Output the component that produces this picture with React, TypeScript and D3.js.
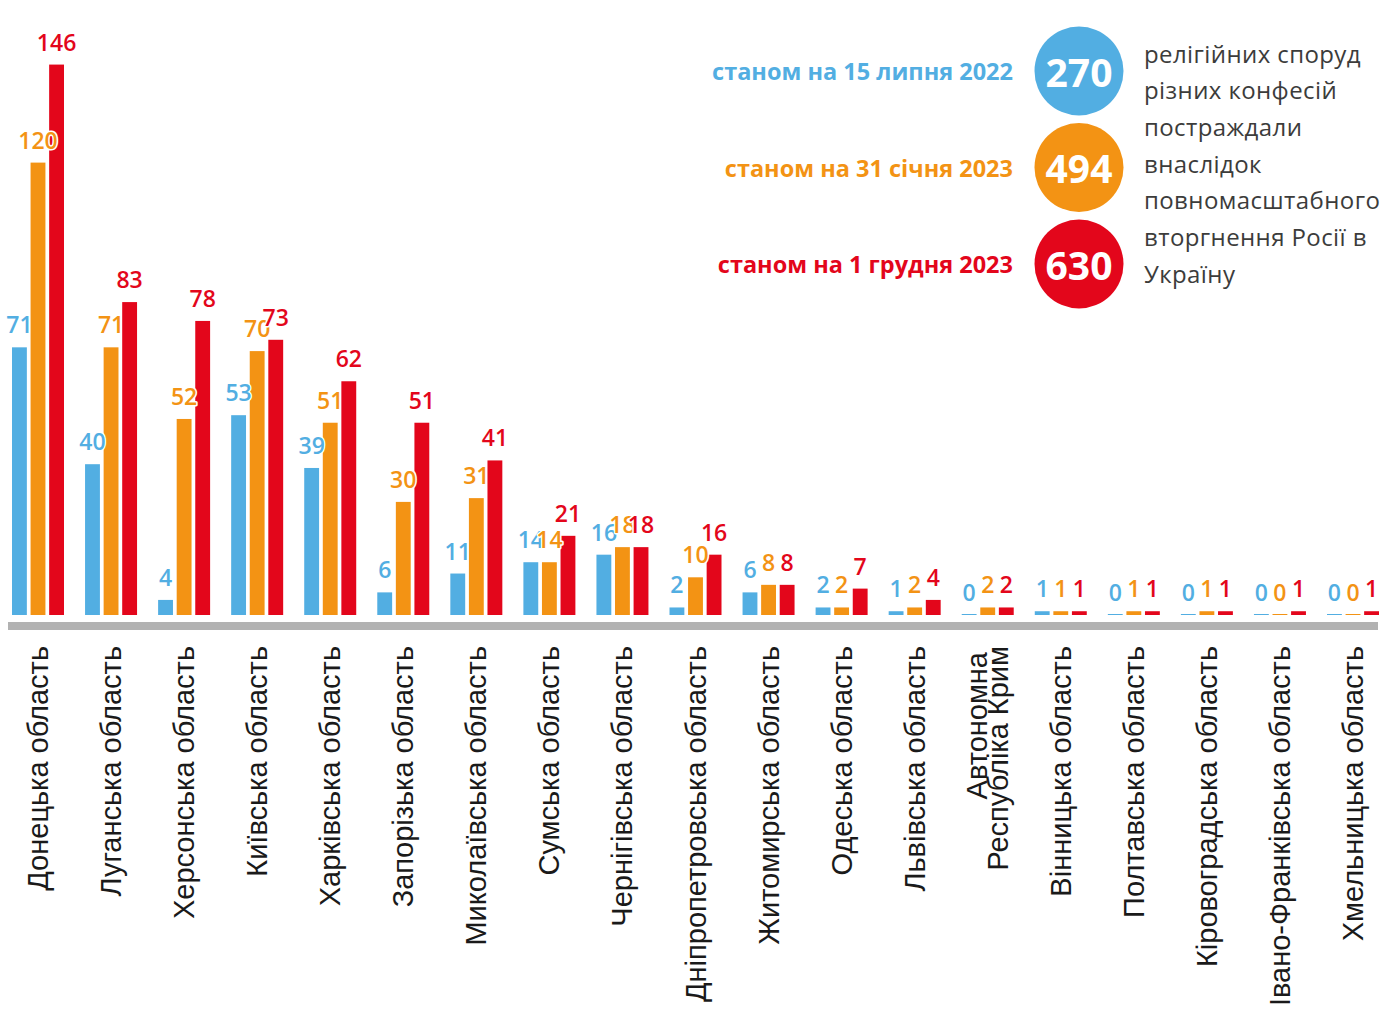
import React from "react";
import * as d3 from "d3";

const categories = [
  "Донецька область",
  "Луганська область",
  "Херсонська область",
  "Київська область",
  "Харківська  область",
  "Запорізька область",
  "Миколаївська область",
  "Сумська область",
  "Чернігівська область",
  "Дніпропетровська область",
  "Житомирська область",
  "Одеська область",
  "Львівська область",
  "Автономна\nРеспубліка Крим",
  "Вінницька область",
  "Полтавська область",
  "Кіровоградська область",
  "Івано-Франківська область",
  "Хмельницька область",
];

const jul2022 = [71, 40, 4, 53, 39, 6, 11, 14, 16, 2, 6, 2, 1, 0, 1, 0, 0, 0, 0];
const jan2023 = [120, 71, 52, 70, 51, 30, 31, 14, 18, 10, 8, 2, 2, 2, 1, 1, 1, 0, 0];
const dec2023 = [146, 83, 78, 73, 62, 51, 41, 21, 18, 16, 8, 7, 4, 2, 1, 1, 1, 1, 1];

const seriesKeys = ["jul2022", "jan2023", "dec2023"];
const seriesValues = [jul2022, jan2023, dec2023];
const seriesColors = ["#52AEE2", "#F39314", "#E3061B"];
const legendLabels = ["станом на 15 липня 2022", "станом на 31 січня 2023", "станом на 1 грудня 2023"];
const legendTotals = ["270", "494", "630"];
const noteLines = [
  "релігійних споруд",
  "різних конфесій",
  "постраждали",
  "внаслідок",
  "повномасштабного",
  "вторгнення Росії в",
  "Україну",
];

const W = 1384;
const H = 1013;
const baseY = 615;
const numFont = "'Open Sans', 'Noto Sans', sans-serif";
const labelFont = "'Liberation Sans', Arial, sans-serif";

export default function App() {
  const x = d3.scalePoint<string>().domain(categories).range([38, 1353]);
  const xs = d3.scaleBand<string>().domain(seriesKeys).range([-26, 26]).paddingInner(0.2);
  const y = d3.scaleLinear().domain([0, 146]).range([baseY, baseY - 146 * 3.77]);

  return (
    <svg
      width={W}
      height={H}
      viewBox={`0 0 ${W} ${H}`}
      style={{ position: "absolute", left: 0, top: 0, display: "block", background: "#fff" }}
    >
      <rect x={0} y={0} width={W} height={H} fill="#fff" />
      {/* bars */}
      {categories.map((c, i) => (
        <g key={c} transform={`translate(${x(c)},0)`}>
          {seriesKeys.map((k, s) => {
            const v = seriesValues[s][i];
            const top = y(v);
            const h = Math.max(1, baseY - top);
            return (
              <rect
                key={k}
                x={xs(k)!}
                y={baseY - h}
                width={xs.bandwidth()}
                height={h}
                fill={seriesColors[s]}
              />
            );
          })}
        </g>
      ))}
      {/* value labels */}
      {categories.map((c, i) => (
        <g key={c + "-l"} transform={`translate(${x(c)},0)`}>
          {seriesKeys.map((k, s) => {
            const v = seriesValues[s][i];
            return (
              <text
                key={k}
                x={xs(k)! + xs.bandwidth() / 2}
                y={y(v) - 14}
                textAnchor="middle"
                fontFamily={numFont}
                fontWeight={600}
                fontSize={23}
                fill={seriesColors[s]}
                stroke="#fff"
                strokeWidth={3}
                strokeLinejoin="round"
                style={{ paintOrder: "stroke" }}
              >
                {v}
              </text>
            );
          })}
        </g>
      ))}
      {/* axis line */}
      <rect x={8} y={622} width={1370} height={8} fill="#B2B2B2" />
      {/* category labels */}
      {categories.map((c) => {
        const lines = c.split("\n");
        const cx = x(c)!;
        const lh = 21;
        return (
          <g key={c + "-a"}>
            {lines.map((ln, j) => (
              <text
                key={j}
                transform={`translate(${cx + (j - (lines.length - 1) / 2) * lh},${lines.length > 1 && j === 0 ? 652 : 646}) rotate(-90)`}
                textAnchor="end"
                dominantBaseline="central"
                fontFamily={labelFont}
                fontSize={29}
                fill="#1a1a1a"
              >
                {ln}
              </text>
            ))}
          </g>
        );
      })}
      {/* legend */}
      {legendLabels.map((t, s) => {
        const cy = 71 + s * 96.5;
        return (
          <g key={t}>
            <text
              x={1013}
              y={cy}
              textAnchor="end"
              dominantBaseline="central"
              fontFamily={numFont}
              fontWeight={700}
              fontSize={23.5}
              fill={seriesColors[s]}
            >
              {t}
            </text>
            <circle cx={1079} cy={cy} r={44.5} fill={seriesColors[s]} />
            <text
              x={1079}
              y={cy}
              textAnchor="middle"
              dominantBaseline="central"
              fontFamily={numFont}
              fontWeight={700}
              fontSize={39}
              fill="#fff"
            >
              {legendTotals[s]}
            </text>
          </g>
        );
      })}
      {noteLines.map((ln, j) => (
        <text
          key={ln}
          x={1144}
          y={53 + j * 36.7}
          dominantBaseline="central"
          fontFamily={numFont}
          fontWeight={500}
          fontSize={24}
          letterSpacing={0.4}
          fill="#3C3C3B"
        >
          {ln}
        </text>
      ))}
    </svg>
  );
}
